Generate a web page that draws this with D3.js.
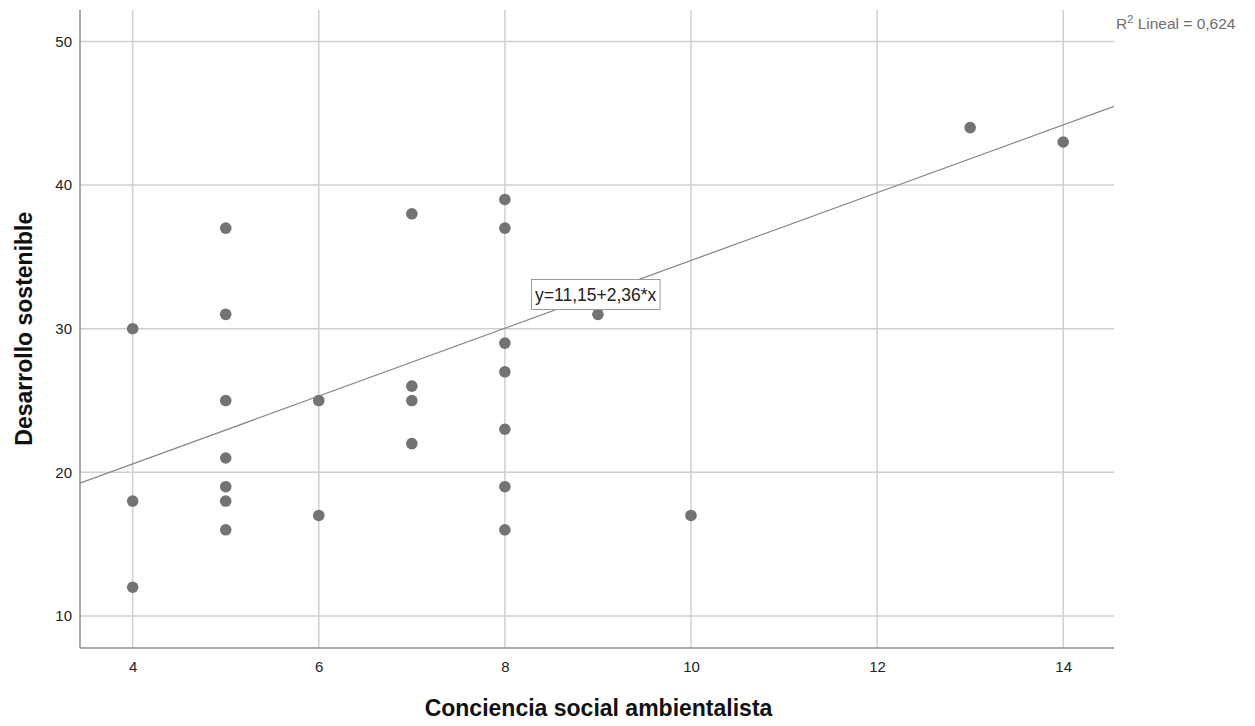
<!DOCTYPE html>
<html>
<head>
<meta charset="utf-8">
<script src="https://cdn.jsdelivr.net/npm/d3@7/dist/d3.min.js"></script>
<style>
  html, body { margin: 0; padding: 0; background: #fff; }
  svg { display: block; font-family: "Liberation Sans", Arial, sans-serif; }
</style>
</head>
<body>
<svg id="chart" width="1255" height="726"></svg>
<script>
// Data: Conciencia social ambientalista (x) vs Desarrollo sostenible (y)
const xValues = [4, 4, 4, 5, 5, 5, 5, 5, 5, 5, 6, 6, 7, 7, 7, 7, 8, 8, 8, 8, 8, 8, 8, 9, 10, 13, 14];
const yValues = [30, 18, 12, 37, 31, 25, 21, 19, 18, 16, 25, 17, 38, 26, 25, 22, 39, 37, 29, 27, 23, 19, 16, 31, 17, 44, 43];
const xTicks = [4, 6, 8, 10, 12, 14];
const yTicks = [10, 20, 30, 40, 50];
const intercept = 11.15;
const slope = 2.36;
const equationLabel = "y=11,15+2,36*x";
const r2Label = "0,624";
const xTitle = "Conciencia social ambientalista";
const yTitle = "Desarrollo sostenible";

const svg = d3.select("#chart");
const L = 80, R = 1114, T = 10, B = 648;

const x = d3.scaleLinear().domain([3.434, 14.546]).range([L, R]);
const y = d3.scaleLinear().domain([7.77, 52.19]).range([B, T]);

// Grid lines
const grid = svg.append("g");
grid.selectAll("line.gx").data(xTicks).join("line")
  .attr("x1", d => x(d)).attr("x2", d => x(d))
  .attr("y1", T).attr("y2", B)
  .attr("stroke", "#cfcfcf").attr("stroke-width", 1.5);
grid.selectAll("line.gy").data(yTicks).join("line")
  .attr("x1", L).attr("x2", R)
  .attr("y1", d => y(d)).attr("y2", d => y(d))
  .attr("stroke", "#cfcfcf").attr("stroke-width", 1.5);

// Axes
const xAxis = d3.axisBottom(x).tickValues(xTicks).tickSize(0).tickPadding(13).tickFormat(d3.format("d"));
const yAxis = d3.axisLeft(y).tickValues(yTicks).tickSize(0).tickPadding(8).tickFormat(d3.format("d"));

const gx = svg.append("g").attr("transform", `translate(0,${B})`).call(xAxis);
const gy = svg.append("g").attr("transform", `translate(${L},0)`).call(yAxis);
[gx, gy].forEach(g => {
  g.select(".domain").attr("stroke", "#8e8e8e").attr("stroke-width", 1.5);
  g.selectAll("text").attr("font-size", 15).attr("fill", "#222")
    .attr("font-family", "Liberation Sans, Arial, sans-serif");
});
gx.select(".domain").attr("d", `M${L},0H${R}`);
gy.select(".domain").attr("d", `M0,${T}V${B}`);

// Regression line
const xd = x.domain();
svg.append("line")
  .attr("x1", x(xd[0])).attr("y1", y(intercept + slope * xd[0]))
  .attr("x2", x(xd[1])).attr("y2", y(intercept + slope * xd[1]))
  .attr("stroke", "#8a8a8a").attr("stroke-width", 1.3);

// Points
const pts = xValues.map((v, i) => ({x: v, y: yValues[i]}));
svg.append("g").selectAll("circle").data(pts).join("circle")
  .attr("cx", d => x(d.x)).attr("cy", d => y(d.y)).attr("r", 5.8)
  .attr("fill", "#737373");

// Equation label box
const eqG = svg.append("g");
const eqText = eqG.append("text")
  .attr("x", 535).attr("y", 300.5)
  .attr("font-size", 17.5).attr("fill", "#222")
  .text(equationLabel);
const bb = eqText.node().getBBox();
eqG.insert("rect", "text")
  .attr("x", bb.x - 3.5).attr("y", 279.5)
  .attr("width", bb.width + 7).attr("height", 30)
  .attr("fill", "#fff").attr("stroke", "#9a9a9a").attr("stroke-width", 1);

// R^2 label
const r2 = svg.append("text").attr("x", 1116).attr("y", 29)
  .attr("font-size", 15.5).attr("fill", "#6e6e6e");
r2.append("tspan").text("R");
r2.append("tspan").attr("dy", -6).attr("font-size", 11).text("2");
r2.append("tspan").attr("dy", 6).text(" Lineal = " + r2Label);

// Axis titles
svg.append("text").attr("x", 598.5).attr("y", 716)
  .attr("text-anchor", "middle").attr("font-size", 23).attr("font-weight", "bold")
  .attr("fill", "#111").text(xTitle);
svg.append("text")
  .attr("transform", `translate(32,${328.7}) rotate(-90)`)
  .attr("text-anchor", "middle").attr("font-size", 23).attr("font-weight", "bold")
  .attr("fill", "#111").text(yTitle);
</script>
</body>
</html>
